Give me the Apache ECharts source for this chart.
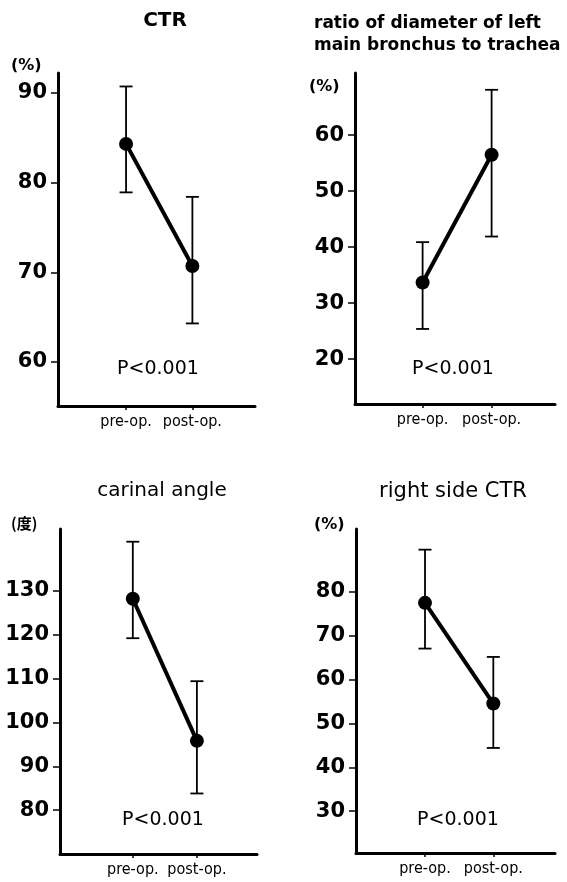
<!DOCTYPE html>
<html>
<head>
<meta charset="utf-8">
<script src="https://cdn.jsdelivr.net/npm/echarts@6/dist/echarts.min.js"></script>
<style>html,body{margin:0;padding:0;background:#fff;}#c{width:567px;height:882px;}</style>
</head>
<body>
<div id="c"></div>
<script>
// ---- data ----
const categories = ['pre-op.', 'post-op.'];
const ctrMean = [84.3, 70.7];
const ctrLow = [78.9, 64.3];
const ctrHigh = [90.7, 78.4];
const ctrTicks = [60, 70, 80, 90];

const ratioMean = [33.7, 56.5];
const ratioLow = [25.4, 41.9];
const ratioHigh = [40.9, 68.1];
const ratioTicks = [20, 30, 40, 50, 60];

const carinalMean = [128.2, 95.8];
const carinalLow = [119.2, 83.8];
const carinalHigh = [141.2, 109.4];
const carinalTicks = [80, 90, 100, 110, 120, 130];

const rctrMean = [77.4, 54.5];
const rctrLow = [67.0, 44.4];
const rctrHigh = [89.5, 65.1];
const rctrTicks = [30, 40, 50, 60, 70, 80];

const titles = ['CTR', 'ratio of diameter of left\nmain bronchus to trachea', 'carinal angle', 'right side CTR'];
const units = ['(%)', '(%)', '(度)', '(%)'];
const pText = 'P<0.001';

// ---- layout ----
const panels = [
  {grid: {left: 58, top: 73, width: 197, height: 333}, x: [-1.026, 1.944], y: [55.1, 92.2], ticks: ctrTicks,
   mean: ctrMean, low: ctrLow, high: ctrHigh},
  {grid: {left: 355, top: 73, width: 200, height: 331}, x: [-0.98, 1.919], y: [12.0, 71.1], ticks: ratioTicks,
   mean: ratioMean, low: ratioLow, high: ratioHigh},
  {grid: {left: 60, top: 529, width: 197, height: 325}, x: [-1.136, 1.9375], y: [70.0, 144.1], ticks: carinalTicks,
   mean: carinalMean, low: carinalLow, high: carinalHigh},
  {grid: {left: 356, top: 529, width: 199, height: 324}, x: [-1.01, 1.903], y: [20.5, 94.2], ticks: rctrTicks,
   mean: rctrMean, low: rctrLow, high: rctrHigh}
];

const labelFont = "'DejaVu Sans', sans-serif";
const narrowFont = "'Liberation Sans Narrow', 'DejaVu Sans Condensed', sans-serif";

const grids = [], xAxes = [], yAxes = [], series = [];
panels.forEach((p, i) => {
  grids.push(Object.assign({}, p.grid));
  xAxes.push({
    type: 'value', gridIndex: i, min: p.x[0], max: p.x[1],
    splitLine: {show: false},
    axisLine: {show: true, onZero: false, lineStyle: {color: '#000', width: 3}},
    axisTick: {show: true, length: 4, customValues: [0, 1], lineStyle: {color: '#000', width: 1.5}},
    axisLabel: {show: true, customValues: [0, 1], margin: 8, color: '#000', fontSize: 16, fontFamily: narrowFont,
      formatter: v => categories[Math.round(v)] || ''}
  });
  yAxes.push({
    type: 'value', gridIndex: i, min: p.y[0], max: p.y[1],
    splitLine: {show: false},
    axisLine: {show: true, onZero: false, lineStyle: {color: '#000', width: 3}},
    axisTick: {show: true, length: 7, customValues: p.ticks, lineStyle: {color: '#000', width: 1.5}},
    axisLabel: {show: true, customValues: p.ticks, margin: 11, color: '#000', fontSize: 21, fontWeight: 'bold', fontFamily: labelFont}
  });
  series.push({
    type: 'custom', xAxisIndex: i, yAxisIndex: i,
    data: p.mean.map((m, k) => [k, p.low[k], p.high[k]]),
    renderItem: (params, api) => {
      const x = api.value(0);
      const lo = api.coord([x, api.value(1)]);
      const hi = api.coord([x, api.value(2)]);
      const cw = 6.5;
      const st = {stroke: '#000', lineWidth: 1.8};
      return {type: 'group', children: [
        {type: 'line', shape: {x1: lo[0], y1: lo[1], x2: hi[0], y2: hi[1]}, style: st},
        {type: 'line', shape: {x1: lo[0] - cw, y1: lo[1], x2: lo[0] + cw, y2: lo[1]}, style: st},
        {type: 'line', shape: {x1: hi[0] - cw, y1: hi[1], x2: hi[0] + cw, y2: hi[1]}, style: st}
      ]};
    },
    z: 2
  });
  series.push({
    type: 'line', xAxisIndex: i, yAxisIndex: i,
    data: p.mean.map((m, k) => [k, m]),
    symbol: 'circle', symbolSize: 14,
    lineStyle: {color: '#000', width: 4},
    itemStyle: {color: '#000'},
    z: 3
  });
});

const txt = (text, left, top, opts) => ({
  text: text, left: left, top: top, padding: 0,
  textAlign: opts.align || 'left',
  textStyle: Object.assign({color: '#000', fontFamily: labelFont, fontWeight: 'normal'}, opts.style || {})
});

const titleList = [
  txt(titles[0], 165, 11, {align: 'center', style: {fontSize: 20, fontWeight: 'bold'}}),
  txt(titles[1], 314, 13, {style: {fontSize: 17, fontWeight: 'bold', lineHeight: 22}}),
  txt(titles[2], 162, 481, {align: 'center', style: {fontSize: 20}}),
  txt(titles[3], 453, 481, {align: 'center', style: {fontSize: 21}}),
  txt(units[0], 11, 58, {style: {fontSize: 16, fontWeight: 'bold'}}),
  txt(units[1], 309, 79, {style: {fontSize: 16, fontWeight: 'bold'}}),
  txt(units[2], 11, 516, {style: {fontSize: 15, fontWeight: 'bold', fontFamily: "'Noto Sans CJK JP', sans-serif"}}),
  txt(units[3], 314, 517, {style: {fontSize: 16, fontWeight: 'bold'}}),
  txt(pText, 158, 360, {align: 'center', style: {fontSize: 19}}),
  txt(pText, 453, 360, {align: 'center', style: {fontSize: 19}}),
  txt(pText, 163, 811, {align: 'center', style: {fontSize: 19}}),
  txt(pText, 458, 811, {align: 'center', style: {fontSize: 19}})
];

const chart = echarts.init(document.getElementById('c'), null, {renderer: 'canvas'});
chart.setOption({
  animation: false,
  backgroundColor: '#fff',
  title: titleList,
  grid: grids,
  xAxis: xAxes,
  yAxis: yAxes,
  series: series
});
</script>
</body>
</html>
